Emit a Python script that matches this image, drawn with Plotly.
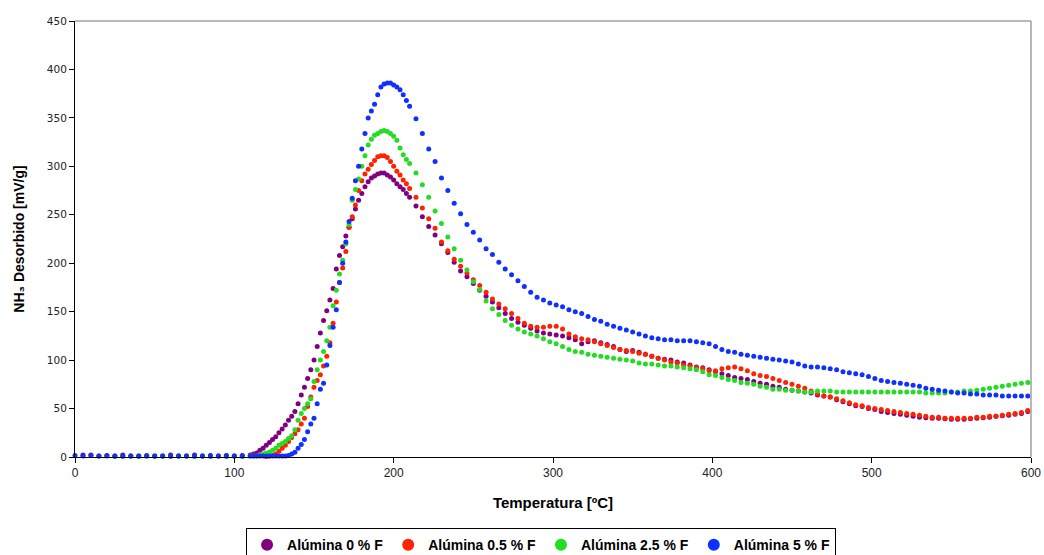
import plotly.graph_objects as go

# Temperature sampling grid [°C]
temp_c = list(range(0, 111, 5)) + list(range(112, 211, 2)) + list(range(214, 599, 4))

# ---- Alúmina 0 % F (purple)
purple_base = [None, 2, 2, 1, 1.5, 1, 2, 1, 1, 1.5, 1, 1, 2, 1, 1, 2, 1, 1.5, 1, 1.5, 1, 1.5, 2]
purple_peak = [3, 4, 7, 9, 12, 15, 18, 21, 25, 29,
               33, 38, 42, 47, 55, 64, 72, 81, 90, 100,
               114, 128, 141, 151, 162, 174, 194, 208, 217, 228,
               237, 246, 256, 265, 272, 279, 284, 288, 290, 292,
               293, 293, 291, 289, 286, 282, 279, 276, 272, 268]
purple_tail = [259, 248, 238, 229, 220, 211, 201, 192, 186, 179,
               172, 166, 160, 154, 148, 143, 139, 136, 133, 130,
               128, 127, 126, 125, 123, 121, 117, 119, 120, 118,
               116, 114, 111, 109, 110, 108, 106, 104, 102, 101,
               100, 98, 97, 95, 93, 92, 90, 88, 86, 84,
               82, 81, 80, 78, 76, 75, 73, 72, 70, 69,
               68, 67, 66, 64, 63, 62, 59, 57, 55, 53,
               52, 50, 49, 47, 46, 45, 44, 43, 42, 41,
               40.5, 40, 40, 39.5, 39, 39, 39, 39.5, 40, 40.5,
               41, 42, 42.5, 43, 44, 45, 47]

# ---- Alúmina 0.5 % F (red)
red_base = [None] * 23
red_peak = [None, None, None, None, 0.5, 1, 1.5, 3, 6, 9,
            12, 16, 20, 24, 28, 34, 40, 52, 62, 72,
            79, 85, 94, 104, 118, 138, 160, 180, 195, 212,
            237, 248, 260, 275, 285, 292, 297, 302, 306, 310,
            311, 311, 309, 305, 300, 295, 291, 286, 282, 277]
red_tail = [268, 257, 246, 236, 222, 213, 204, 197, 190, 183,
            177, 170, 163, 158, 153, 148, 143, 138, 135, 134,
            134, 135, 135, 132, 127, 124, 122, 121, 119, 117,
            115, 113, 111, 110, 109, 107, 106, 104, 102, 100,
            98, 97, 95, 94, 92, 91, 89, 89, 91, 92,
            93, 91, 89, 86, 84, 83, 81, 79, 77, 75,
            73, 71, 68, 65, 63, 62, 60, 58, 56, 54,
            53, 51, 50, 49, 48, 47, 46, 45, 44, 43,
            42, 41, 41, 40, 40, 40, 40, 40, 41, 41,
            42, 42, 43, 44, 45, 46, 48]

# ---- Alúmina 2.5 % F (green)
green_base = [None, None, None, None, None, 0.5, 0.5, 1, 0.5, 1, 0.5, 1, 0.5, 1, 1, 0.5, 1, 0.5, 1, 0.5, 1, 0.5, 1]
green_peak = [1, 1, 2, 3, 4, 5, 7, 9, 12, 14,
              16, 19, 22, 28, 38, 45, 50, 55, 60, 78,
              90, 100, 109, 120, 134, 156, 172, 189, 203, 220,
              240, 265, 276, 287, 300, 311, 322, 328, 332, 334,
              336, 337, 336, 334, 331, 327, 319, 312, 307, 303]
green_tail = [293, 281, 268, 254, 241, 227, 215, 203, 193, 181,
              173, 161, 153, 147, 141, 136, 132, 129, 127, 125,
              122, 119, 117, 114, 111, 109, 108, 106, 105, 104,
              103, 102, 101, 100, 99, 97, 96, 96, 95, 94,
              94, 93, 92, 91, 90, 88, 85, 84, 82, 80,
              79, 77, 76, 75, 73, 72, 70, 70, 69, 69,
              68, 67, 67, 68, 68, 68, 67, 67, 67, 67,
              67, 67, 67, 67, 67, 67, 67, 67, 67, 67,
              66, 66, 66, 66, 67, 67, 68, 68, 69, 70,
              71, 72, 73, 74, 75, 76, 77]

# ---- Alúmina 5 % F (blue)
blue_base = [1.5, 1, 1.5, 1, 1, 1, 1, 1, 1, 1, 1, 1, 1, 1, 1, 1, 1, 1, 1, 1, 1, 1, 1]
blue_peak = [1, 1, 1, 1, 1, 1, 1, 1, 1, 1,
             1, 1.5, 3, 5, 9, 13, 18, 26, 34, 40,
             55, 70, 76, 95, 115, 134, 152, 180, 200, 222,
             243, 267, 285, 300, 318, 334, 350, 357, 364, 374,
             382, 385, 386, 386, 384, 382, 379, 374, 368, 362]
blue_tail = [349, 334, 318, 305, 288, 275, 262, 251, 240, 232,
             224, 215, 209, 201, 194, 188, 182, 176, 170, 165,
             162, 159, 157, 155, 152, 150, 148, 145, 142, 140,
             137, 135, 133, 131, 129, 127, 125, 123, 122, 121,
             121, 120, 120, 120, 119, 118, 117, 114, 111, 109,
             108, 106, 105, 104, 103, 102, 101, 100, 99, 98,
             96, 94, 93, 93, 92, 91, 90, 88, 87, 86,
             85, 83, 81, 79, 78, 77, 76, 75, 74, 73,
             71, 70, 69, 68, 67, 66, 66, 65, 65, 64,
             64, 64, 63, 63, 63, 63, 63]

series_names = ["Alúmina 0 % F", "Alúmina 0.5 % F", "Alúmina 2.5 % F", "Alúmina 5 % F"]
series_colors = ["#800080", "#ff2200", "#22dd22", "#1030ff"]
series_values = [
    purple_base + purple_peak + purple_tail,
    red_base + red_peak + red_tail,
    green_base + green_peak + green_tail,
    blue_base + blue_peak + blue_tail,
]

fig = go.Figure()
for name, color, vals in zip(series_names, series_colors, series_values):
    assert len(vals) == len(temp_c), (name, len(vals), len(temp_c))
    fig.add_trace(go.Scatter(
        x=temp_c, y=vals, mode="markers", name=name,
        marker=dict(color=color, size=5, line=dict(width=0)),
        cliponaxis=False,
    ))

axis_font = dict(family="DejaVu Sans", size=10.5, color="#222")
fig.update_layout(
    width=1044, height=555,
    margin=dict(l=75, r=13, t=21, b=98, autoexpand=False),
    paper_bgcolor="white", plot_bgcolor="white",
    showlegend=True,
    legend=dict(
        orientation="h", x=0.4875, xanchor="center", y=-0.163, yanchor="top",
        bordercolor="black", borderwidth=1, itemsizing="constant",
        font=dict(family="Liberation Sans", size=14, color="black", weight="bold"),
        itemwidth=30, tracegroupgap=0,
    ),
    xaxis=dict(
        range=[0, 600], dtick=100, tick0=0,
        showline=True, linecolor="black", linewidth=1,
        ticks="outside", ticklen=5, tickcolor="black",
        showgrid=False, zeroline=False,
        tickfont=dict(family="Liberation Sans Narrow, Liberation Sans", size=12, color="#222"),
        title=dict(text="Temperatura [ºC]", standoff=18,
                   font=dict(family="Liberation Sans", size=15, color="black", weight="bold")),
    ),
    yaxis=dict(
        range=[0, 450], dtick=50, tick0=0,
        showline=True, linecolor="black", linewidth=1,
        ticks="outside", ticklen=5, tickcolor="black",
        showgrid=False, zeroline=False,
        tickfont=axis_font,
        title=dict(text="NH₃ Desorbido [mV/g]", standoff=18,
                   font=dict(family="Liberation Sans", size=14, color="black", weight="bold")),
    ),
    shapes=[
        dict(type="line", xref="paper", yref="paper", x0=0, x1=1, y0=1, y1=1,
             line=dict(color="#a0a0a0", width=1.5)),
        dict(type="line", xref="paper", yref="paper", x0=1, x1=1, y0=0, y1=1,
             line=dict(color="#a0a0a0", width=1.5)),
    ],
)

fig.write_html("out.html")
